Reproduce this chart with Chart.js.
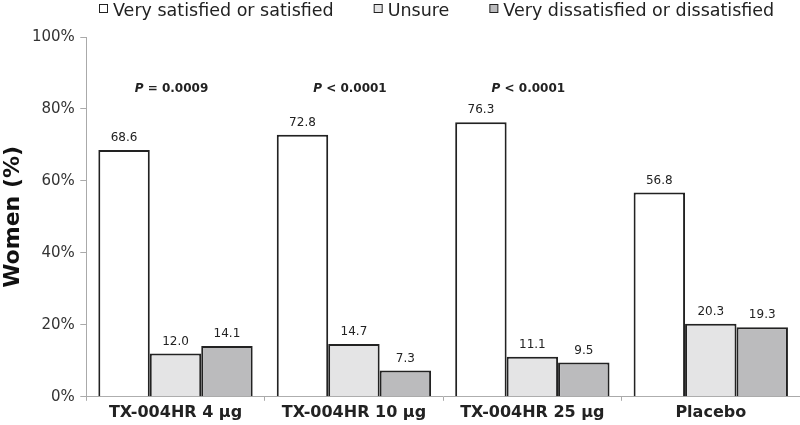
<!DOCTYPE html>
<html>
<head>
<meta charset="utf-8">
<script src="https://cdn.jsdelivr.net/npm/chart.js@4"></script>
<style>
  html, body { margin: 0; padding: 0; background: #fff; }
  #wrap { width: 800px; height: 425px; position: relative; }
</style>
</head>
<body>
<div id="wrap"><canvas id="chart"></canvas></div>
<script>
const categories = ['TX-004HR 4 µg', 'TX-004HR 10 µg', 'TX-004HR 25 µg', 'Placebo'];
const satisfied = [68.6, 72.8, 76.3, 56.8];
const unsure = [12.0, 14.7, 11.1, 20.3];
const dissatisfied = [14.1, 7.3, 9.5, 19.3];
const pValues = ['= 0.0009', '< 0.0001', '< 0.0001', ''];
const yTicks = [0, 20, 40, 60, 80, 100];

// value labels above bars, P values above each group, legend on top
const labelPlugin = {
  id: 'labels',
  afterDatasetsDraw(chart) {
    const ctx = chart.ctx;
    ctx.save();
    ctx.fillStyle = '#222';
    ctx.textAlign = 'center';
    ctx.textBaseline = 'bottom';
    ctx.font = '12px "DejaVu Sans"';
    chart.data.datasets.forEach((ds, i) => {
      chart.getDatasetMeta(i).data.forEach((bar, j) => {
        ctx.fillText(ds.data[j].toFixed(1), bar.x, bar.y - 6);
      });
    });
    const yPos = chart.scales.y.getPixelForValue(85.5) + 6;
    pValues.forEach((p, j) => {
      if (!p) return;
      const x = chart.scales.x.getPixelForValue(j) - 4;
      ctx.font = 'bold 12px "DejaVu Sans"';
      const w = ctx.measureText(p).width;
      ctx.font = 'italic bold 12px "DejaVu Sans"';
      const pw = ctx.measureText('P ').width;
      const left = x - (w + pw) / 2;
      ctx.textAlign = 'left';
      ctx.fillText('P ', left, yPos);
      ctx.font = 'bold 12px "DejaVu Sans"';
      ctx.fillText(p, left + pw, yPos);
    });

    // legend
    let x = 99;
    ctx.font = '17.5px "DejaVu Sans"';
    ctx.textAlign = 'left';
    ctx.textBaseline = 'alphabetic';
    chart.data.datasets.forEach(ds => {
      ctx.fillStyle = ds.backgroundColor;
      ctx.fillRect(x + 0.5, 4.5, 8, 8);
      ctx.strokeStyle = '#222';
      ctx.lineWidth = 1;
      ctx.strokeRect(x + 0.5, 4.5, 8, 8);
      ctx.fillStyle = '#222';
      ctx.fillText(ds.label, x + 14, 16);
      x += 14 + ctx.measureText(ds.label).width + 40;
    });
    ctx.restore();
  }
};

new Chart(document.getElementById('chart'), {
  type: 'bar',
  data: {
    labels: categories,
    datasets: [
      { label: 'Very satisfied or satisfied', data: satisfied, backgroundColor: '#ffffff', borderColor: '#222', borderWidth: 2 },
      { label: 'Unsure', data: unsure, backgroundColor: '#e4e4e5', borderColor: '#222', borderWidth: 2 },
      { label: 'Very dissatisfied or dissatisfied', data: dissatisfied, backgroundColor: '#bbbbbd', borderColor: '#222', borderWidth: 2 }
    ]
  },
  options: {
    responsive: true,
    maintainAspectRatio: false,
    animation: false,
    layout: { padding: { left: 0, right: 0, top: 37, bottom: 0 } },
    datasets: { bar: { categoryPercentage: 0.865, barPercentage: 1.0 } },
    plugins: {
      legend: { display: false },
      tooltip: { enabled: false }
    },
    scales: {
      x: {
        grid: { display: true, drawOnChartArea: false, offset: true, color: '#aaa', tickLength: 4 },
        border: { color: '#aaa', width: 1 },
        ticks: { color: '#222', font: { family: '"DejaVu Sans"', size: 16, weight: 'bold' }, padding: 2.5 }
      },
      y: {
        min: 0,
        max: 100,
        afterBuildTicks(scale) { scale.ticks = yTicks.map(v => ({ value: v })); },
        grid: { display: true, drawOnChartArea: false, color: '#aaa', tickLength: 6 },
        border: { color: '#aaa', width: 1 },
        ticks: { color: '#333', font: { family: '"DejaVu Sans"', size: 15 }, padding: 5.5, callback: v => v + '%' },
        title: { display: true, text: 'Women (%)', color: '#111', font: { family: '"DejaVu Sans"', size: 22, weight: 'bold' }, padding: 0 }
      }
    }
  },
  plugins: [labelPlugin]
});
</script>
</body>
</html>
